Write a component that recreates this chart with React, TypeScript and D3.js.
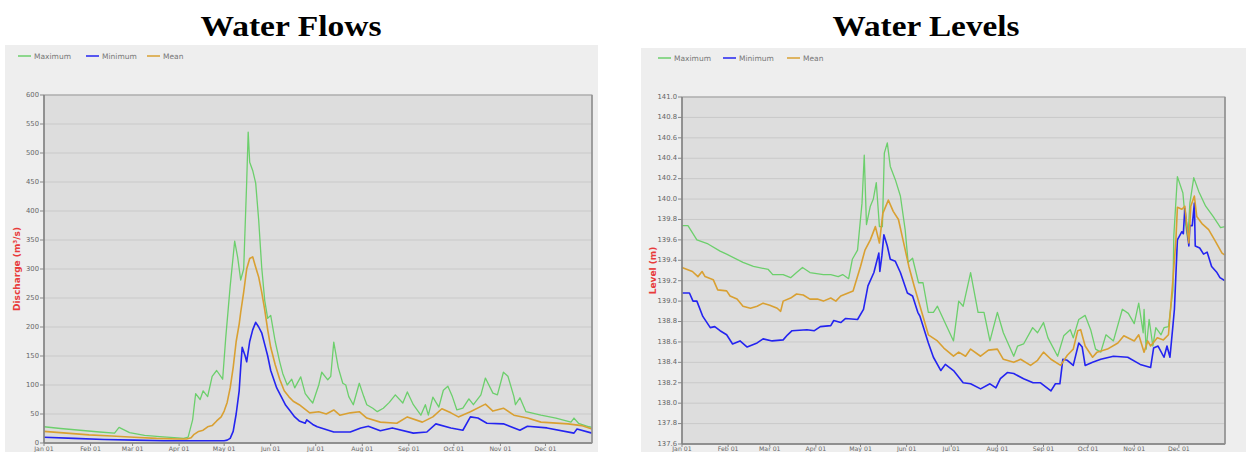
import * as d3 from 'd3'
import React from 'react'

// day-of-year positions of the month ticks and their labels
const monthDays = [0, 31, 59, 90, 120, 151, 181, 212, 243, 273, 304, 334]
const monthLabels = ['Jan 01', 'Feb 01', 'Mar 01', 'Apr 01', 'May 01', 'Jun 01', 'Jul 01', 'Aug 01', 'Sep 01', 'Oct 01', 'Nov 01', 'Dec 01']

const flowTicks = [0, 50, 100, 150, 200, 250, 300, 350, 400, 450, 500, 550, 600]
const levelTicks = [137.6, 137.8, 138.0, 138.2, 138.4, 138.6, 138.8, 139.0, 139.2, 139.4, 139.6, 139.8, 140.0, 140.2, 140.4, 140.6, 140.8, 141.0]

type Pt = [number, number] // [day of year, value]

// Water Flows (discharge, m3/s)
const flowMax: Pt[] = [
  [0, 28], [11, 25], [24, 22], [37, 19], [47, 17], [50, 27], [57, 18], [67, 13], [77, 11], [89, 9], [93, 8], [96, 10],
  [99, 40], [101, 85], [104, 75], [106, 90], [109, 80], [112, 115], [115, 125], [119, 110], [121, 180], [124, 270],
  [127, 348], [129, 320], [131, 281], [133, 300], [135, 450], [136, 536], [137, 484], [139, 470], [141, 448], [143, 384],
  [145, 303], [147, 246], [149, 215], [151, 220], [154, 175], [157, 140], [159, 120], [162, 100], [165, 110], [167, 95],
  [171, 114], [174, 85], [177, 75], [179, 69], [183, 100], [185, 122], [189, 109], [191, 115], [193, 174], [196, 130],
  [199, 103], [201, 100], [203, 80], [206, 66], [210, 103], [213, 80], [215, 66], [219, 60], [222, 54], [226, 60],
  [230, 70], [234, 83], [239, 69], [242, 88], [246, 66], [251, 48], [254, 66], [256, 48], [259, 79], [263, 62],
  [266, 91], [269, 98], [272, 80], [275, 57], [279, 60], [283, 76], [286, 66], [291, 83], [294, 112], [299, 86],
  [302, 83], [306, 122], [309, 115], [313, 80], [314, 66], [317, 78], [321, 54], [331, 48], [341, 43], [351, 36],
  [353, 43], [356, 34], [363, 28], [365, 27],
]
const flowMin: Pt[] = [
  [0, 10], [20, 8], [40, 6], [60, 5], [80, 4], [100, 4], [120, 4], [122, 5], [124, 8], [126, 20], [128, 50], [130, 90],
  [131, 130], [132, 165], [134, 150], [135, 140], [137, 175], [139, 195], [141, 208], [143, 200], [145, 190], [147, 170],
  [149, 150], [151, 125], [153, 110], [155, 95], [158, 80], [161, 65], [164, 55], [167, 45], [170, 38], [174, 34],
  [175, 40], [179, 32], [182, 28], [193, 19], [204, 19], [211, 26], [216, 29], [224, 21], [232, 26], [246, 17],
  [255, 19], [261, 33], [271, 26], [279, 22], [284, 45], [289, 43], [295, 34], [306, 33], [317, 22], [322, 29],
  [335, 26], [353, 17], [355, 24], [365, 17],
]
const flowMean: Pt[] = [
  [0, 20], [15, 17], [30, 14], [45, 12], [60, 10], [75, 8], [89, 7], [95, 7], [98, 9], [100, 15], [103, 20], [106, 22],
  [109, 28], [112, 30], [115, 38], [118, 45], [120, 55], [122, 70], [124, 95], [126, 130], [128, 175], [130, 205],
  [131, 225], [133, 260], [135, 300], [137, 318], [139, 321], [141, 303], [143, 286], [145, 260], [147, 230], [149, 195],
  [151, 165], [154, 135], [157, 110], [160, 90], [163, 80], [166, 72], [170, 66], [174, 58], [177, 52], [183, 54],
  [188, 50], [193, 57], [197, 48], [204, 52], [210, 54], [215, 43], [224, 36], [235, 34], [242, 45], [252, 36],
  [259, 45], [265, 59], [271, 52], [276, 45], [284, 54], [294, 67], [299, 55], [306, 60], [313, 48], [322, 43],
  [331, 36], [349, 33], [358, 30], [365, 24],
]

// Water Levels (m)
const levelMax: Pt[] = [
  [0, 139.74], [4, 139.74], [10, 139.6], [17.5, 139.56], [25.6, 139.49], [30, 139.46], [41, 139.38], [48, 139.34],
  [58, 139.31], [61, 139.26], [68, 139.26], [73, 139.23], [77, 139.28], [81, 139.33], [86, 139.28], [95, 139.26],
  [100, 139.26], [105, 139.24], [108, 139.26], [112, 139.22], [114.5, 139.41], [118, 139.5], [121, 139.96],
  [122.5, 140.43], [124, 139.75], [126.6, 139.93], [128.6, 140.0], [130.6, 140.16], [132.7, 139.73], [134.7, 139.73],
  [136, 140.45], [138, 140.55], [140, 140.32], [143.4, 140.19], [146.8, 140.03], [150, 139.7], [152, 139.38],
  [155, 139.42], [159, 139.18], [162, 139.18], [165.6, 138.89], [169, 138.89], [171.7, 138.95], [175.8, 138.82],
  [182.5, 138.61], [186, 139.0], [189, 138.95], [194, 139.28], [199, 138.89], [203, 138.89], [207, 138.61],
  [212, 138.89], [216, 138.69], [223, 138.46], [225.6, 138.56], [229.6, 138.58], [235.7, 138.74], [239, 138.69],
  [243, 138.79], [246, 138.64], [252.5, 138.46], [256.6, 138.66], [261, 138.72], [263, 138.64], [266.7, 138.82],
  [271, 138.86], [274.7, 138.72], [278, 138.53], [281.5, 138.5], [285, 138.67], [290, 138.61], [296, 138.92],
  [300, 138.88], [304, 138.78], [307, 138.98], [310, 138.69], [310.6, 138.92], [312, 138.53], [314, 138.82],
  [316.5, 138.56], [318.5, 138.74], [322, 138.67], [324, 138.74], [327, 138.75], [330, 139.11], [330.6, 139.64],
  [333, 140.22], [336.7, 140.06], [338.7, 139.73], [340, 139.6], [341.4, 139.96], [344, 140.21], [347.5, 140.07],
  [352, 139.93], [357, 139.83], [362, 139.72], [365, 139.73],
]
const levelMin: Pt[] = [
  [0, 139.08], [5, 139.08], [7.4, 139.0], [10, 139.0], [14, 138.85], [19, 138.74], [22, 138.75], [25.6, 138.71],
  [30, 138.67], [34, 138.58], [39, 138.61], [43.8, 138.55], [50.5, 138.59], [54.5, 138.63], [60.6, 138.61],
  [68, 138.62], [71, 138.67], [74, 138.71], [84, 138.72], [89, 138.71], [93, 138.75], [100, 138.76], [102, 138.81],
  [106.7, 138.79], [110, 138.83], [118, 138.82], [122, 138.92], [125, 139.15], [129, 139.28], [132.3, 139.47],
  [133, 139.29], [134.4, 139.45], [135.7, 139.65], [138, 139.54], [140, 139.41], [143.4, 139.39], [146.8, 139.28],
  [151.5, 139.08], [155, 139.05], [158.5, 138.89], [160, 138.85], [165.6, 138.59], [169, 138.45], [174, 138.32],
  [177, 138.38], [182.5, 138.32], [189, 138.2], [194, 138.19], [200.7, 138.14], [207, 138.19], [211, 138.15],
  [214, 138.24], [218.7, 138.3], [223, 138.29], [229.6, 138.24], [236, 138.2], [241, 138.2], [248, 138.12],
  [251, 138.19], [254, 138.19], [256, 138.43], [259, 138.42], [263, 138.37], [266.7, 138.59], [269, 138.55],
  [271, 138.37], [276, 138.4], [281.5, 138.43], [290, 138.46], [299.6, 138.45], [308, 138.38], [315, 138.35],
  [317, 138.54], [320, 138.56], [324, 138.45], [326, 138.56], [328, 138.45], [330, 138.76], [331, 138.92],
  [333, 139.6], [336, 139.68], [337, 139.66], [338, 139.91], [340.7, 139.54], [341.4, 139.74], [343, 139.74],
  [344.4, 139.96], [345, 139.54], [348, 139.52], [350.6, 139.46], [353, 139.48], [356, 139.34], [359.6, 139.28],
  [361.6, 139.23], [365, 139.2],
]
const levelMean: Pt[] = [
  [0, 139.33], [7, 139.29], [10.7, 139.24], [13.5, 139.29], [15.5, 139.24], [21, 139.21], [24, 139.11], [30, 139.1],
  [32.3, 139.05], [37, 139.02], [41, 138.95], [46, 138.93], [50.5, 138.95], [54.5, 138.98], [59, 138.96], [64, 138.93],
  [66.3, 138.9], [68, 139.0], [73, 139.03], [77, 139.07], [81.5, 139.06], [86, 139.02], [91, 139.02], [95, 139.0],
  [100, 139.03], [103.4, 139.0], [106.7, 139.05], [115, 139.1], [120, 139.34], [123, 139.5], [126.6, 139.6],
  [130, 139.73], [132.7, 139.57], [135, 139.86], [138.7, 139.99], [142, 139.88], [145.5, 139.8], [149, 139.57],
  [152.5, 139.34], [156, 139.15], [160, 138.95], [165.6, 138.67], [171.7, 138.61], [176, 138.54], [182.5, 138.46],
  [186, 138.5], [190.6, 138.46], [194, 138.53], [200.7, 138.46], [206, 138.52], [212, 138.53], [216, 138.43],
  [223, 138.4], [227.6, 138.43], [234.3, 138.37], [239, 138.42], [243, 138.5], [248, 138.43], [254.5, 138.37],
  [259, 138.47], [263, 138.53], [266, 138.71], [268, 138.72], [271, 138.56], [276, 138.45], [279, 138.5],
  [286, 138.53], [293, 138.59], [297, 138.66], [304, 138.61], [307, 138.67], [310.6, 138.5], [313, 138.61],
  [315, 138.56], [319.5, 138.64], [323.6, 138.62], [327, 138.67], [330, 139.21], [332, 139.6], [333, 139.92],
  [336, 139.9], [338, 139.93], [339.4, 139.73], [340.7, 139.57], [342, 139.93], [344.4, 140.03], [346, 139.83],
  [349.5, 139.76], [354, 139.7], [358, 139.6], [363, 139.47], [365, 139.45],
]

const seriesNames = ['Maximum', 'Minimum', 'Mean']
const seriesColors = ['#6ccf6c', '#2424f0', '#d9a032']

type ChartProps = {
  panel: [number, number, number, number]
  plot: [number, number, number, number] // left, top, right, bottom
  yTicks: number[]
  yFmt: (v: number) => string
  yTitle: string
  title: string
  titleX: number
  titleW: number
  legendX: number[]
  legendY: number
  labelY: number
  data: Pt[][]
}

function Chart(p: ChartProps) {
  const [l, t, r, b] = p.plot
  const x = d3.scaleLinear().domain([0, 365]).range([l, r])
  const y = d3.scaleLinear().domain([p.yTicks[0], p.yTicks[p.yTicks.length - 1]]).range([b, t])
  const line = d3.line<Pt>().x((d) => x(d[0])).y((d) => y(d[1]))
  const fnt = 'DejaVu Sans, sans-serif'
  return (
    <g>
      <text x={p.titleX} y={36} textAnchor="middle" fontFamily="Liberation Serif, serif" fontWeight="bold"
        fontSize={30} textLength={p.titleW} lengthAdjust="spacingAndGlyphs" fill="#000">{p.title}</text>
      <rect x={p.panel[0]} y={p.panel[1]} width={p.panel[2]} height={p.panel[3]} fill="#eeeeee" />
      {seriesNames.map((n, i) => (
        <g key={n}>
          <line x1={p.legendX[i]} x2={p.legendX[i] + 13} y1={p.legendY} y2={p.legendY} stroke={seriesColors[i]} strokeWidth={1.5} />
          <text x={p.legendX[i] + 16} y={p.legendY + 2.5} fontSize={7.5} fontFamily={fnt} fill="#777">{n}</text>
        </g>
      ))}
      <rect x={l} y={t} width={r - l} height={b - t} fill="#dddddd" />
      {p.yTicks.map((v) => (
        <g key={v}>
          <line x1={l} x2={r} y1={y(v)} y2={y(v)} stroke="#c9c9c9" strokeWidth={1} />
          <line x1={l - 4} x2={l} y1={y(v)} y2={y(v)} stroke="#888" />
          <text x={l - 5} y={y(v) + 1.8} textAnchor="end" fontSize={6.8} fontFamily={fnt} fill="#666">{p.yFmt(v)}</text>
        </g>
      ))}
      {monthDays.map((d, i) => (
        <g key={d}>
          <line x1={x(d)} x2={x(d)} y1={b} y2={b + 3} stroke="#888" />
          <text x={x(d)} y={p.labelY} textAnchor="middle" fontSize={6.2} fontFamily={fnt} fill="#666">{monthLabels[i]}</text>
        </g>
      ))}
      {p.data.map((s, i) => (
        <path key={i} d={line(s) || ''} fill="none" stroke={seriesColors[i]} strokeWidth={i === 0 ? 1.3 : 1.6} strokeLinejoin="round" />
      ))}
      <rect x={l} y={t} width={r - l} height={b - t} fill="none" stroke="#a0a0a0" strokeWidth={1} />
      <line x1={l} x2={l} y1={t} y2={b} stroke="#808080" strokeWidth={1.5} />
      <line x1={l} x2={r} y1={b} y2={b} stroke="#808080" strokeWidth={1.5} />
      <line x1={r} x2={r} y1={t} y2={b} stroke="#909090" strokeWidth={1.5} />
      <text transform={`translate(${p.panel[0] + 15},${(t + b) / 2}) rotate(-90)`} textAnchor="middle" fontSize={9}
        fontWeight="bold" fontFamily={fnt} fill="#e83a3a">{p.yTitle}</text>
    </g>
  )
}

export default function App() {
  return (
    <svg width={1246} height={452} style={{ position: 'absolute', left: 0, top: 0, background: '#fff' }}>
      <Chart panel={[5, 45, 593, 407]} plot={[44, 95, 592, 443]} yTicks={flowTicks} yFmt={(v) => String(v)}
        yTitle="Discharge (m³/s)" title="Water Flows" titleX={291} titleW={181}
        legendX={[18, 86, 147]} legendY={56} labelY={450.5} data={[flowMax, flowMin, flowMean]} />
      <Chart panel={[641, 48, 605, 404]} plot={[682, 97, 1225, 444]} yTicks={levelTicks} yFmt={(v) => v.toFixed(1)}
        yTitle="Level (m)" title="Water Levels" titleX={926} titleW={187}
        legendX={[658, 723, 787]} legendY={58} labelY={451} data={[levelMax, levelMin, levelMean]} />
    </svg>
  )
}
